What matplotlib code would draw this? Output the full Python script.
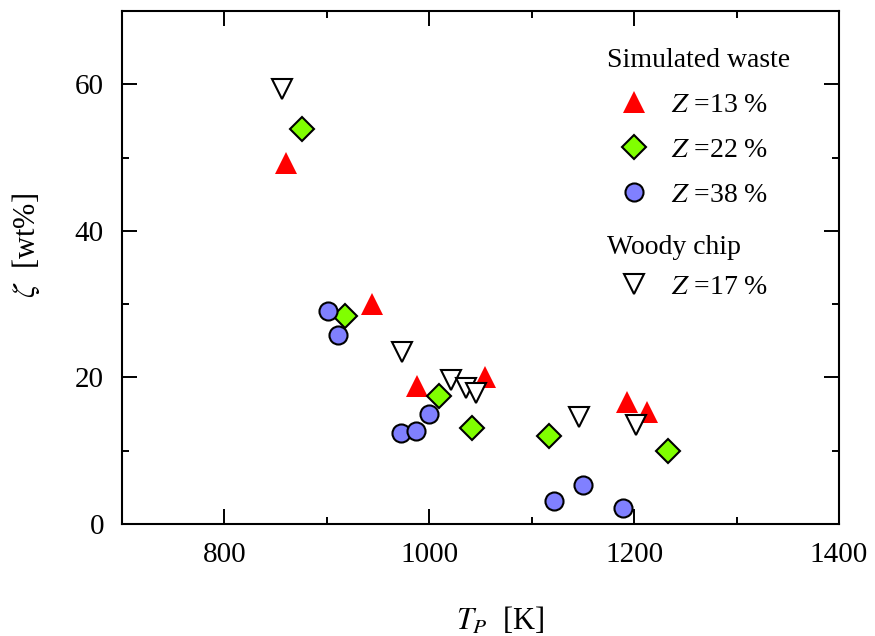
import matplotlib
matplotlib.use("Agg")
import matplotlib.pyplot as plt

plt.rcParams['font.family'] = ['Liberation Serif', 'DejaVu Serif']
plt.rcParams['mathtext.fontset'] = 'stix'

# Simulated waste, Z = 13 %
tp13 = [860, 944, 988, 1054, 1193, 1213]
zeta13 = [49.2, 30.0, 18.8, 20.0, 16.6, 15.3]

# Simulated waste, Z = 22 %
tp22 = [876, 918, 1009, 1042, 1117, 1233]
zeta22 = [53.9, 28.4, 17.5, 13.1, 12.0, 10.0]

# Simulated waste, Z = 38 %
tp38 = [901, 911, 972, 987, 1000, 1122, 1150, 1189]
zeta38 = [29.0, 25.8, 12.4, 12.7, 15.0, 3.1, 5.3, 2.2]

# Woody chip, Z = 17 %
tpWood = [856, 973, 1021, 1036, 1046, 1146, 1202]
zetaWood = [59.3, 23.5, 19.6, 18.5, 17.9, 14.6, 13.5]

fig = plt.figure(figsize=(8.75, 6.36), dpi=100)
ax = fig.add_axes([0.1394, 0.1761, 0.8195, 0.8066])

l13, = ax.plot(tp13, zeta13, '^', color='#ff0000', markersize=16, markeredgewidth=0,
               linestyle='none', label=r'$Z$ =13 %')
l22, = ax.plot(tp22, zeta22, 'D', markerfacecolor='#80ff00', markeredgecolor='black',
               markersize=12, markeredgewidth=1.5, linestyle='none', label=r'$Z$ =22 %')
l38, = ax.plot(tp38, zeta38, 'o', markerfacecolor='#8080ff', markeredgecolor='black',
               markersize=13, markeredgewidth=1.5, linestyle='none', label=r'$Z$ =38 %')
lW, = ax.plot(tpWood, zetaWood, 'v', markerfacecolor='white', markeredgecolor='black',
              markersize=15, markeredgewidth=1.5, linestyle='none', label=r'$Z$ =17 %')

ax.set_xlim(700, 1400)
ax.set_ylim(0, 70)
ax.set_xticks([800, 1000, 1200, 1400])
ax.set_xticks([900, 1100, 1300], minor=True)
ax.set_yticks([0, 20, 40, 60])
ax.set_yticks([10, 30, 50, 70], minor=True)
ax.tick_params(which='both', direction='in', top=True, right=True, labelsize=21, width=1.4)
ax.tick_params(which='major', length=11, pad=13)
ax.tick_params(which='minor', length=5)
for s in ax.spines.values():
    s.set_linewidth(1.5)

ax.set_xlabel(r'$T_P$  [K]', fontsize=22)
ax.set_ylabel(r'$\zeta$  [wt%]', fontsize=22)
ax.xaxis.set_label_coords(0.527, -0.160)
ax.yaxis.set_label_coords(-0.112, 0.542)

leg1 = ax.legend(handles=[l13, l22, l38], title='Simulated waste', loc='upper left',
                 bbox_to_anchor=(0.645, 0.971), frameon=False, fontsize=20, title_fontsize=20,
                 alignment='left', handletextpad=0.3, labelspacing=0.7, borderpad=0.3)
ax.add_artist(leg1)
ax.legend(handles=[lW], title='Woody chip', loc='upper left',
          bbox_to_anchor=(0.645, 0.606), frameon=False, fontsize=20, title_fontsize=20,
          alignment='left', handletextpad=0.3, borderpad=0.3)

fig.savefig('out.png', dpi=100)
